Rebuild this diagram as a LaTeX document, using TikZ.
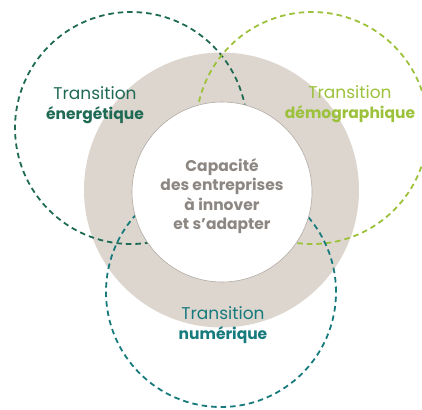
\documentclass[tikz,border=0pt]{standalone}
\usepackage{fontspec}
\setmainfont{Poppins}
\definecolor{sable}{HTML}{DDD6CF}
\definecolor{vertfonce}{HTML}{1F6A55}
\definecolor{vertclair}{HTML}{9CC13B}
\definecolor{bleucanard}{HTML}{177A7D}
\definecolor{grischaud}{HTML}{8C8782}
\tikzset{
  zone/.style={circle, draw=#1, line width=1.8pt, dash pattern=on 5.5pt off 4pt,
    minimum size=232pt, inner sep=0pt},
  label text/.style={align=center, text=#1, font=\fontsize{17}{20.5}\selectfont},
}
\newcommand\gras[1]{{\fontsize{15.5}{20}\selectfont\bfseries #1}}
\begin{document}
\begin{tikzpicture}[x=1pt,y=-1pt]
\useasboundingbox (0,0) rectangle (422,409);
% anneau de fond
\node[circle, fill=sable, minimum size=275pt, inner sep=0pt] (anneau) at (221.5,190) {};
% les trois transitions
\node[zone=vertfonce] (energie) at (131,128) {};
\node[zone=vertclair] (demo) at (312,128) {};
\node[zone=bleucanard, minimum size=230pt] (numerique) at (221,292) {};
% disque central
\node[circle, fill=white, draw=sable!80!black, line width=0.6pt,
  minimum size=180pt, inner sep=0pt] (coeur) at (222,192) {};
% textes
\node[label text=vertfonce] (tenergie) at (95,105) {Transition\\\gras{énergétique}};
\node[label text=vertclair] (tdemo) at (350,104) {Transition\\\gras{démographique}};
\node[label text=bleucanard] (tnum) at (223,325) {Transition\\\gras{numérique}};
\node[label text=grischaud, font=\bfseries\fontsize{15.5}{19.5}\selectfont] (tcoeur) at (222,196)
  {Capacité\\des entreprises\\à innover\\et s’adapter};
\end{tikzpicture}
\end{document}
